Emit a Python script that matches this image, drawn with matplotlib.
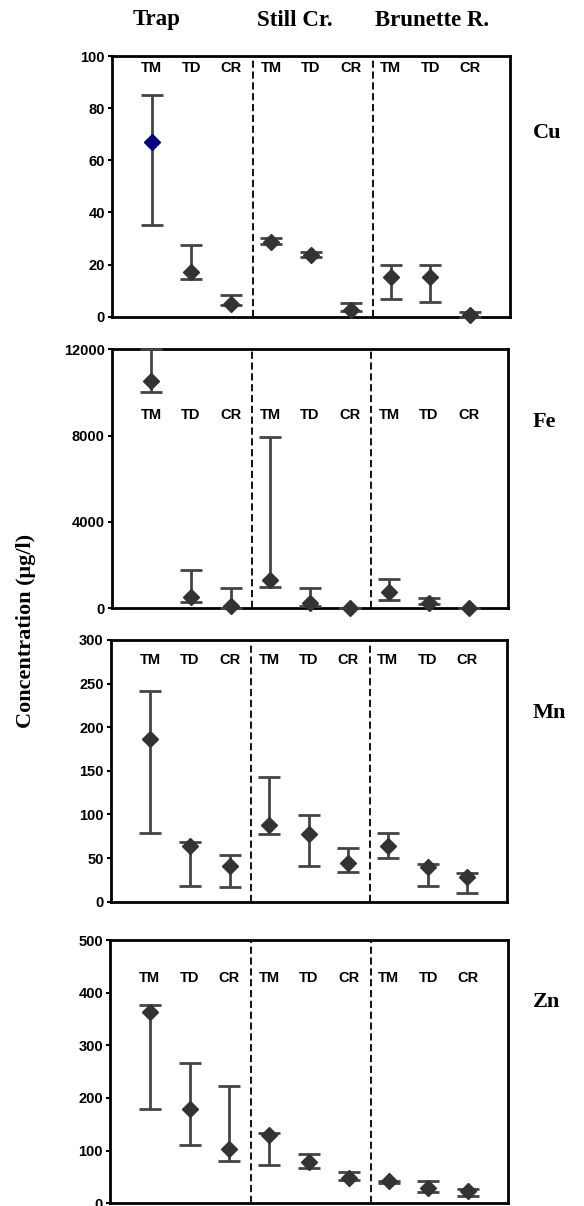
import matplotlib
matplotlib.use("Agg")
import matplotlib.pyplot as plt
import matplotlib.transforms as mtransforms
import numpy as np

# ---------------- data ----------------
sites = ["Trap", "Still Cr.", "Brunette R."]
fractions = ["TM", "TD", "CR"]
metals = ["Cu", "Fe", "Mn", "Zn"]

cu_mean = [67, 17, 5, 28.5, 23.8, 2.6, 15.2, 15.2, 0.6]
cu_low = [35, 14.5, 4.5, 27.8, 23.0, 2.0, 6.8, 5.8, 0.0]
cu_high = [85.2, 27.6, 8.3, 30.0, 24.8, 5.2, 19.7, 19.7, 1.9]

fe_mean = [10550, 510, 100, 1310, 260, 0, 740, 260, 0]
fe_low = [10040, 310, 0, 1000, 100, 0, 390, 200, 0]
fe_high = [12000, 1780, 930, 7950, 930, 0, 1340, 460, 0]

mn_mean = [186, 64, 41, 88, 77.6, 44, 64, 40, 28]
mn_low = [79, 18, 16.4, 78, 41, 33.6, 49.7, 18.3, 9.6]
mn_high = [242, 69, 53, 142.5, 99, 61, 79, 42.8, 32.5]

zn_mean = [364, 180, 103, 130, 79, 47.5, 43, 30, 24]
zn_low = [178.5, 110, 80, 73, 67, 44, 39, 22, 14]
zn_high = [376, 267, 223, 133, 94, 59, 43, 42, 26.6]

cu_ticks = [0, 20, 40, 60, 80, 100]
fe_ticks = [0, 4000, 8000, 12000]
mn_ticks = [0, 50, 100, 150, 200, 250, 300]
zn_ticks = [0, 100, 200, 300, 400, 500]

series = {
    "Cu": (cu_mean, cu_low, cu_high, cu_ticks),
    "Fe": (fe_mean, fe_low, fe_high, fe_ticks),
    "Mn": (mn_mean, mn_low, mn_high, mn_ticks),
    "Zn": (zn_mean, zn_low, zn_high, zn_ticks),
}

# ---------------- style / layout ----------------
W, H = 584, 1206
fig = plt.figure(figsize=(W / 100, H / 100), dpi=100)

# axes boxes in pixels: left, right, top, bottom
boxes = {
    "Cu": (111.7, 510.0, 56.0, 316.7),
    "Fe": (111.7, 508.3, 349.3, 608.3),
    "Mn": (110.7, 506.7, 640.0, 901.7),
    "Zn": (110.0, 508.0, 940.0, 1203.3),
}
label_y = {"Cu": 0.955, "Fe": 0.746, "Mn": 0.924, "Zn": 0.856}
right_label_y = {"Cu": 132.7, "Fe": 421.7, "Mn": 713.0, "Zn": 1001.7}

dark = "#333333"
ecol = "#444444"
navy = "#000080"
highlight = {"Cu": 0}

x = np.arange(1, 10)
sans = ["Liberation Sans", "DejaVu Sans"]
serif = ["Liberation Serif", "DejaVu Serif"]

for m in metals:
    mean, low, high, ticks = series[m]
    l, r, t, b = boxes[m]
    ax = fig.add_axes([l / W, 1 - b / H, (r - l) / W, (b - t) / H])
    mean = np.array(mean, float)
    low = np.array(low, float)
    high = np.array(high, float)
    for i in range(len(x)):
        col = navy if highlight.get(m) == i else dark
        capcol = navy if highlight.get(m) == i else ecol
        eb = ax.errorbar([x[i]], [mean[i]],
                         yerr=[[mean[i] - low[i]], [high[i] - mean[i]]],
                         fmt="D", ms=8, mfc=col, mec=col, ecolor=ecol,
                         elinewidth=2.0, capsize=8, capthick=2.0, zorder=3,
                         clip_on=False)
        for cl in eb[1]:
            cl.set_color(capcol)
    for xv in (3.55, 6.55):
        ax.axvline(xv, color="black", lw=1.3, ls=(0, (4, 2)), zorder=1)
    ax.set_xlim(0, 10)
    ax.set_ylim(ticks[0], ticks[-1])
    ax.set_yticks(ticks)
    ax.set_yticklabels([str(v) for v in ticks], fontsize=10.5,
                       fontweight="bold", family=sans)
    ax.set_xticks([])
    ax.tick_params(axis="y", direction="out", length=3, width=1.5, pad=2)
    for sp in ax.spines.values():
        sp.set_linewidth(2.0)
        sp.set_color("black")
    trans = mtransforms.blended_transform_factory(ax.transData, ax.transAxes)
    for i in range(len(x)):
        ax.text(x[i], label_y[m], fractions[i % 3], transform=trans,
                ha="center", va="center", fontsize=10.5, fontweight="bold",
                family=sans)
    fig.text(533 / W, 1 - right_label_y[m] / H, m, ha="left", va="center",
             fontsize=16, fontweight="bold", family=serif)

for name, xc in zip(sites, [156.7, 295.0, 431.7]):
    fig.text(xc / W, 1 - 20 / H, name, ha="center", va="center",
             fontsize=16.5, fontweight="bold", family=serif)

fig.text(26 / W, 1 - 631 / H, "Concentration (\u03bcg/l)", rotation=90,
         ha="center", va="center", fontsize=16, fontweight="bold",
         family=serif)

fig.savefig("out.png", dpi=100)
